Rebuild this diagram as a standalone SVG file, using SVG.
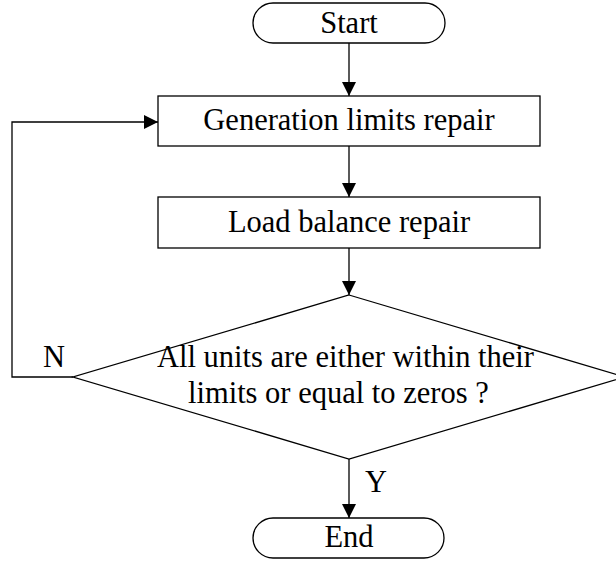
<svg xmlns="http://www.w3.org/2000/svg" width="616" height="562" viewBox="0 0 616 562">
  <style>
    .shape { fill: #fff; stroke: #000; stroke-width: 1.3; }
    .link { fill: none; stroke: #000; stroke-width: 1.3; }
    text { font-family: "Liberation Serif", "Times New Roman", serif; font-size: 30.5px; fill: #000; }
    .mid { text-anchor: middle; }
  </style>
  <defs>
    <marker id="arrow" markerUnits="userSpaceOnUse" markerWidth="14" markerHeight="14" viewBox="0 0 14 14" refX="14" refY="7" orient="auto">
      <path d="M0,0 L14,7 L0,14 Z" fill="#000"/>
    </marker>
  </defs>

  <g id="connectors">
    <line class="link" x1="349" y1="43" x2="349" y2="96" marker-end="url(#arrow)"/>
    <line class="link" x1="349" y1="146" x2="349" y2="197" marker-end="url(#arrow)"/>
    <line class="link" x1="349" y1="248" x2="349" y2="295" marker-end="url(#arrow)"/>
    <line class="link" x1="349" y1="459" x2="349" y2="518" marker-end="url(#arrow)"/>
    <polyline class="link" points="73,377 12,377 12,122 158,122" marker-end="url(#arrow)"/>
    <text x="43" y="367">N</text>
    <text x="365" y="492">Y</text>
  </g>

  <g id="start">
    <rect class="shape" x="253" y="3" width="192" height="40" rx="20" ry="20"/>
    <text class="mid" x="349" y="33">Start</text>
  </g>

  <g id="generation-limits-repair">
    <rect class="shape" x="158" y="96" width="382" height="50"/>
    <text class="mid" x="349" y="130">Generation limits repair</text>
  </g>

  <g id="load-balance-repair">
    <rect class="shape" x="158" y="197" width="382" height="51"/>
    <text class="mid" x="349" y="232">Load balance repair</text>
  </g>

  <g id="units-check">
    <polygon class="shape" points="349,295 625,377 349,459 73,377"/>
    <text x="157" y="367">All units are either within their</text>
    <text x="188" y="403">limits or equal to zeros ?</text>
  </g>

  <g id="end">
    <rect class="shape" x="253" y="518" width="191" height="40" rx="20" ry="20"/>
    <text class="mid" x="349" y="547">End</text>
  </g>
</svg>
